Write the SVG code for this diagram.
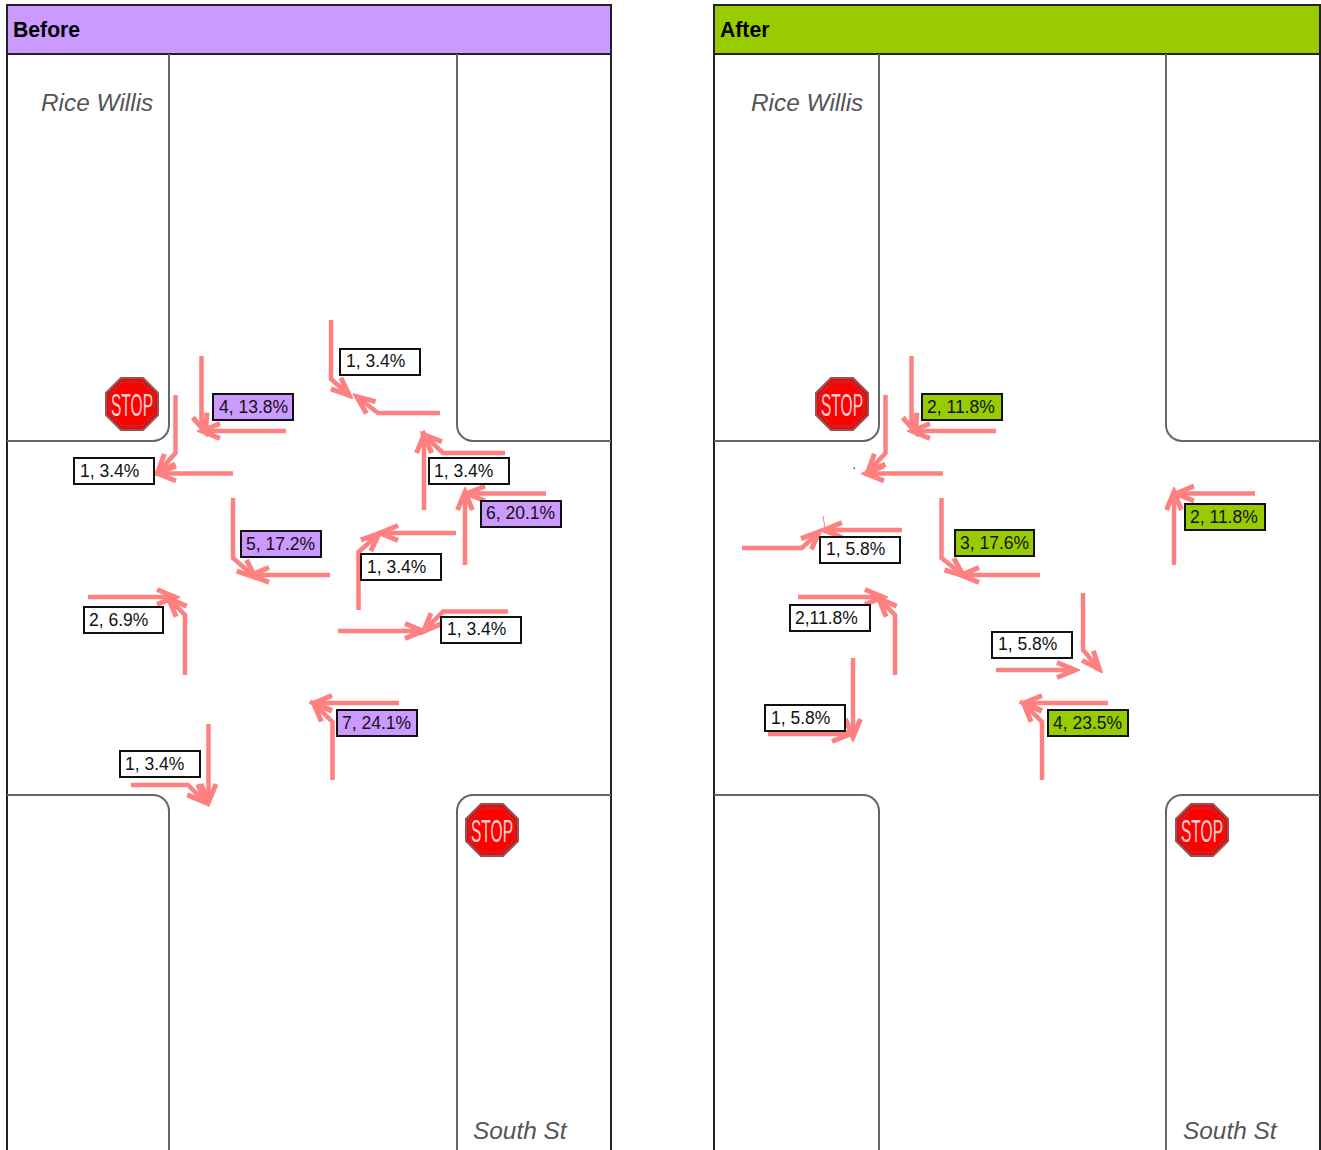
<svg xmlns="http://www.w3.org/2000/svg" xmlns:xlink="http://www.w3.org/1999/xlink" width="1321" height="1150" viewBox="0 0 1321 1150">
<style>
text{font-family:"Liberation Sans",Arial,sans-serif}
.hd{font-size:21.200px;font-weight:bold;fill:#000}
.panel{fill:#fff;stroke:#222;stroke-width:2}
.road{fill:none;stroke:#666;stroke-width:2}
.street{font-size:24.400px;font-style:italic;fill:#555}
.lb{stroke:#111;stroke-width:2;fill:#fff}
.pu{fill:#cc99ff}.gr{fill:#99cc00}
.lt{font-size:17.500px;fill:#111}
.a{fill:none;stroke:#ff8080;stroke-width:4.500;marker-end:url(#h)}
.oct{fill:#f00;stroke:#8a5a5a;stroke-width:2}
.oct2{fill:none;stroke:#a33;stroke-width:1.500}
.st{font-size:32px;fill:#ffd0d0}
</style>
<defs>
<marker id="h" markerUnits="userSpaceOnUse" viewBox="-24 -12 28 24" refX="0" refY="0" markerWidth="28" markerHeight="24" orient="auto">
<path d="M-19,-7.500L-1,0L-19,7.500" fill="none" stroke="#ff8080" stroke-width="5"/>
<path d="M-11,-4.500L1,0L-11,4.500Z" fill="#ff8080"/>
</marker>
<g id="octagon"><polygon class="oct" points="-11,-26 11,-26 26,-11 26,11 11,26 -11,26 -26,11 -26,-11"/><polygon class="oct2" points="-9.500,-22 9.500,-22 22,-9.500 22,9.500 9.500,22 -9.500,22 -22,9.500 -22,-9.500"/></g>
</defs>
<rect width="1321" height="1150" fill="#fff"/>

<g id="panel-before">
<rect class="panel" x="7" y="54" width="604" height="1100"/>
<rect x="7" y="5" width="604" height="49" fill="#cc99ff" stroke="#222" stroke-width="2"/>
<text class="hd" x="13" y="37">Before</text>
<path class="road" d="M169,54V425A16,16 0 0 1 153,441H7M457,54V425A16,16 0 0 0 473,441H611M7,795H153A16,16 0 0 1 169,811V1150M611,795H473A16,16 0 0 0 457,811V1150"/>
<text class="street" x="41" y="111">Rice Willis</text>
<text class="street" x="473" y="1139">South St</text>
</g>
<g id="panel-after">
<rect class="panel" x="714" y="54" width="606" height="1100"/>
<rect x="714" y="5" width="606" height="49" fill="#99cc00" stroke="#222" stroke-width="2"/>
<text class="hd" x="720" y="37">After</text>
<path class="road" d="M879,54V425A16,16 0 0 1 863,441H714M1166,54V425A16,16 0 0 0 1182,441H1320M714,795H863A16,16 0 0 1 879,811V1150M1320,795H1182A16,16 0 0 0 1166,811V1150"/>
<text class="street" x="751" y="111">Rice Willis</text>
<text class="street" x="1183" y="1139">South St</text>
</g>

<g id="stop-1" transform="translate(132,404)"><use xlink:href="#octagon" href="#octagon"/><text class="st" x="-21" y="12" textLength="42" lengthAdjust="spacingAndGlyphs">STOP</text></g>
<g id="stop-2" transform="translate(492,830)"><use xlink:href="#octagon" href="#octagon"/><text class="st" x="-21" y="12" textLength="42" lengthAdjust="spacingAndGlyphs">STOP</text></g>
<g id="stop-3" transform="translate(842,404)"><use xlink:href="#octagon" href="#octagon"/><text class="st" x="-21" y="12" textLength="42" lengthAdjust="spacingAndGlyphs">STOP</text></g>
<g id="stop-4" transform="translate(1202,830)"><use xlink:href="#octagon" href="#octagon"/><text class="st" x="-21" y="12" textLength="42" lengthAdjust="spacingAndGlyphs">STOP</text></g>

<g id="connectors">
<polyline class="a" points="201.500,356 201.500,420 206,433"/>
<polyline class="a" points="286,431 201,431"/>
<polyline class="a" points="175.500,395 175.500,453 157,473"/>
<polyline class="a" points="233,473.500 157,473.500"/>
<polyline class="a" points="233,498 233,558 256,578"/>
<polyline class="a" points="330,575 250,575"/>
<polyline class="a" points="331,320 331,379 350,396"/>
<polyline class="a" points="440,413 378,413 356,396"/>
<polyline class="a" points="424,510 424,434"/>
<polyline class="a" points="505,453 443,453 423,434"/>
<polyline class="a" points="465,565 465,491"/>
<polyline class="a" points="546,493.500 466,493.500"/>
<polyline class="a" points="358.500,610 358.500,552 380,533"/>
<polyline class="a" points="456,533 379,533"/>
<polyline class="a" points="338,631 424,631"/>
<polyline class="a" points="508,611.500 443,611.500 423,632"/>
<polyline class="a" points="88,597 176,597"/>
<polyline class="a" points="185,675 185,615 168,598"/>
<polyline class="a" points="208.500,724 208.500,803"/>
<polyline class="a" points="131,785 188,785 206,803"/>
<polyline class="a" points="399,703 313,703"/>
<polyline class="a" points="332.500,780 332.500,722 313,703"/>

<polyline class="a" points="911.500,356 911.500,420 916,433"/>
<polyline class="a" points="996,431 911,431"/>
<polyline class="a" points="885.500,395 885.500,453 867,473"/>
<polyline class="a" points="943,473.500 865,473.500"/>
<polyline class="a" points="742,548 802,548 820,531"/>
<polyline class="a" points="902,530 823,530"/>
<polyline class="a" points="941.500,498 941.500,558 964,576"/>
<polyline class="a" points="1040,575 960,575"/>
<polyline class="a" points="798,597 884,597"/>
<polyline class="a" points="895,675 895,615 878,598"/>
<polyline class="a" points="853,658 853,738"/>
<polyline class="a" points="768,734 851,734"/>
<polyline class="a" points="1083,593 1083,650 1100,670"/>
<polyline class="a" points="996,670 1076,670"/>
<polyline class="a" points="1108,703 1023,703"/>
<polyline class="a" points="1042,780 1042,722 1023,703"/>
<polyline class="a" points="1174,565 1174,491"/>
<polyline class="a" points="1255,493.500 1175,493.500"/>
<path d="M823,516L825,528" stroke="#ff8080" stroke-width="1" fill="none"/>
<rect x="853.500" y="467.500" width="1.500" height="1.500" fill="#555"/>
</g>

<g id="n1"><rect class="lb" x="340" y="349" width="80" height="26"/><text class="lt" x="346" y="367">1, 3.4%</text></g>
<g id="n2"><rect class="lb pu" x="213" y="394" width="80" height="26"/><text class="lt" x="219" y="413">4, 13.8%</text></g>
<g id="n3"><rect class="lb" x="74" y="458" width="80" height="26"/><text class="lt" x="80" y="477">1, 3.4%</text></g>
<g id="n4"><rect class="lb" x="429" y="458" width="80" height="26"/><text class="lt" x="434" y="477">1, 3.4%</text></g>
<g id="n5"><rect class="lb pu" x="481" y="501" width="80" height="26"/><text class="lt" x="486" y="519">6, 20.1%</text></g>
<g id="n6"><rect class="lb pu" x="241" y="531" width="80" height="26"/><text class="lt" x="246" y="550">5, 17.2%</text></g>
<g id="n7"><rect class="lb" x="361" y="554" width="80" height="26"/><text class="lt" x="367" y="573">1, 3.4%</text></g>
<g id="n8"><rect class="lb" x="84" y="607" width="79" height="26"/><text class="lt" x="89" y="626">2, 6.9%</text></g>
<g id="n9"><rect class="lb" x="441" y="617" width="80" height="26"/><text class="lt" x="447" y="635">1, 3.4%</text></g>
<g id="n10"><rect class="lb pu" x="337" y="710" width="80" height="26"/><text class="lt" x="342" y="729">7, 24.1%</text></g>
<g id="n11"><rect class="lb" x="120" y="751" width="80" height="26"/><text class="lt" x="125" y="770">1, 3.4%</text></g>

<g id="n12"><rect class="lb gr" x="922" y="394" width="80" height="26"/><text class="lt" x="927" y="413">2, 11.8%</text></g>
<g id="n13"><rect class="lb gr" x="1185" y="504" width="80" height="26"/><text class="lt" x="1190" y="523">2, 11.8%</text></g>
<g id="n14"><rect class="lb gr" x="955" y="530" width="79" height="26"/><text class="lt" x="960" y="549">3, 17.6%</text></g>
<g id="n15"><rect class="lb" x="820" y="537" width="80" height="26"/><text class="lt" x="826" y="555">1, 5.8%</text></g>
<g id="n16"><rect class="lb" x="790" y="605" width="80" height="26"/><text class="lt" x="795" y="624">2,11.8%</text></g>
<g id="n17"><rect class="lb" x="992" y="632" width="80" height="26"/><text class="lt" x="998" y="650">1, 5.8%</text></g>
<g id="n18"><rect class="lb" x="765" y="705" width="80" height="26"/><text class="lt" x="771" y="724">1, 5.8%</text></g>
<g id="n19"><rect class="lb gr" x="1048" y="710" width="80" height="26"/><text class="lt" x="1053" y="729">4, 23.5%</text></g>
</svg>
